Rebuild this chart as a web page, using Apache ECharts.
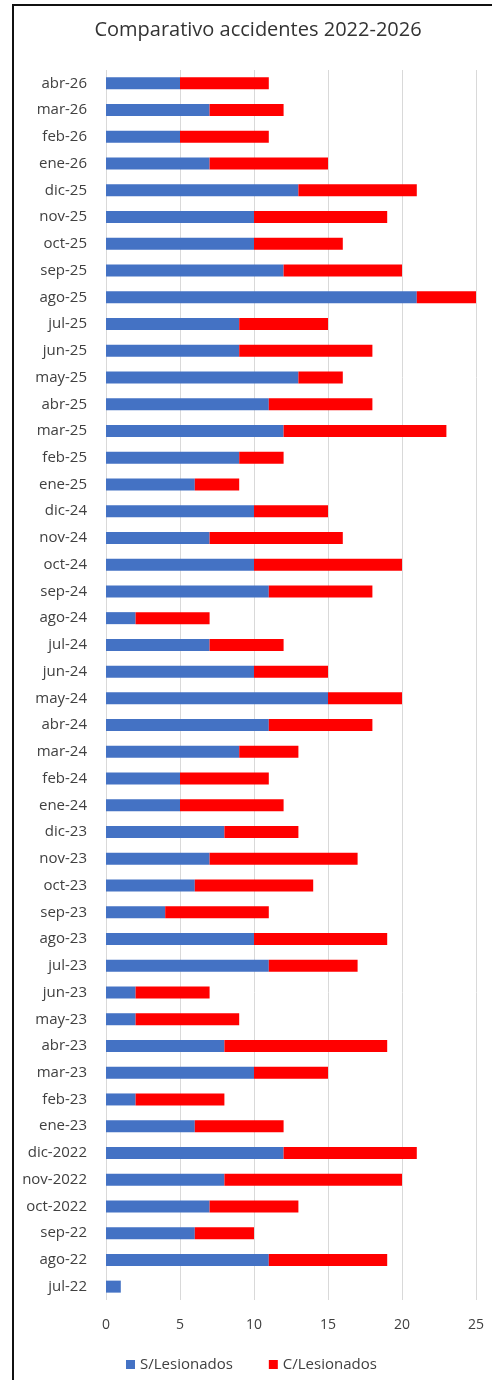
<!DOCTYPE html>
<html>
<head>
<meta charset="utf-8">
<script src="https://cdn.jsdelivr.net/npm/echarts@6/dist/echarts.min.js"></script>
<style>
  html, body { margin: 0; padding: 0; background: #fff; }
  #chart { width: 492px; height: 1380px; }
  .frame {
    position: absolute;
    left: 12px;
    top: 4px;
    width: 520px;
    height: 1420px;
    border: 2px solid #111;
    pointer-events: none;
  }
</style>
</head>
<body>
<div id="chart"></div>
<div class="frame"></div>
<script>
// bottom-to-top order, as in the source sheet
const months = [
  "jul-22", "ago-22", "sep-22", "oct-2022", "nov-2022", "dic-2022",
  "ene-23", "feb-23", "mar-23", "abr-23", "may-23", "jun-23",
  "jul-23", "ago-23", "sep-23", "oct-23", "nov-23", "dic-23",
  "ene-24", "feb-24", "mar-24", "abr-24", "may-24", "jun-24",
  "jul-24", "ago-24", "sep-24", "oct-24", "nov-24", "dic-24",
  "ene-25", "feb-25", "mar-25", "abr-25", "may-25", "jun-25",
  "jul-25", "ago-25", "sep-25", "oct-25", "nov-25", "dic-25",
  "ene-26", "feb-26", "mar-26", "abr-26"
];
const sinLesionados = [
  1, 11, 6, 7, 8, 12,
  6, 2, 10, 8, 2, 2,
  11, 10, 4, 6, 7, 8,
  5, 5, 9, 11, 15, 10,
  7, 2, 11, 10, 7, 10,
  6, 9, 12, 11, 13, 9,
  9, 21, 12, 10, 10, 13,
  7, 5, 7, 5
];
const conLesionados = [
  0, 8, 4, 6, 12, 9,
  6, 6, 5, 11, 7, 5,
  6, 9, 7, 8, 10, 5,
  7, 6, 4, 7, 5, 5,
  5, 5, 7, 10, 9, 5,
  3, 3, 11, 7, 3, 9,
  6, 4, 8, 6, 9, 8,
  8, 6, 5, 6
];
const xTicks = [0, 5, 10, 15, 20, 25];

const textColor = "#404040";
const font = "'Open Sans', 'Noto Sans', sans-serif";

const myChart = echarts.init(document.getElementById("chart"), null, { renderer: "canvas" });
const option = {
  animation: false,
  color: ["#4472C4", "#FF0000"],
  title: {
    text: "Comparativo accidentes 2022-2026",
    left: 253,
    top: 15,
    textAlign: "center",
    textStyle: {
      fontFamily: font,
      fontSize: 20,
      fontWeight: "normal",
      color: "#333"
    }
  },
  legend: {
    bottom: 3,
    left: 121,
    itemWidth: 9,
    itemHeight: 9,
    itemGap: 36,
    icon: "rect",
    textStyle: {
      fontFamily: font,
      fontSize: 15,
      color: textColor
    },
    data: ["S/Lesionados", "C/Lesionados"]
  },
  grid: {
    left: 106,
    right: 16,
    top: 70,
    height: 1230
  },
  xAxis: {
    type: "value",
    min: xTicks[0],
    max: xTicks[xTicks.length - 1],
    interval: 5,
    axisLine: { show: false },
    axisTick: { show: false },
    axisLabel: {
      margin: 18,
      fontFamily: font,
      fontSize: 14,
      color: textColor
    },
    splitLine: {
      lineStyle: { color: "#d9d9d9", width: 1 }
    }
  },
  yAxis: {
    type: "category",
    data: months,
    axisLine: { show: false },
    axisTick: { show: false },
    axisLabel: {
      margin: 19,
      fontFamily: font,
      fontSize: 15,
      color: textColor
    }
  },
  series: [
    {
      name: "S/Lesionados",
      type: "bar",
      stack: "total",
      barWidth: 12,
      data: sinLesionados
    },
    {
      name: "C/Lesionados",
      type: "bar",
      stack: "total",
      barWidth: 12,
      data: conLesionados
    }
  ]
};
myChart.setOption(option);
</script>
</body>
</html>
